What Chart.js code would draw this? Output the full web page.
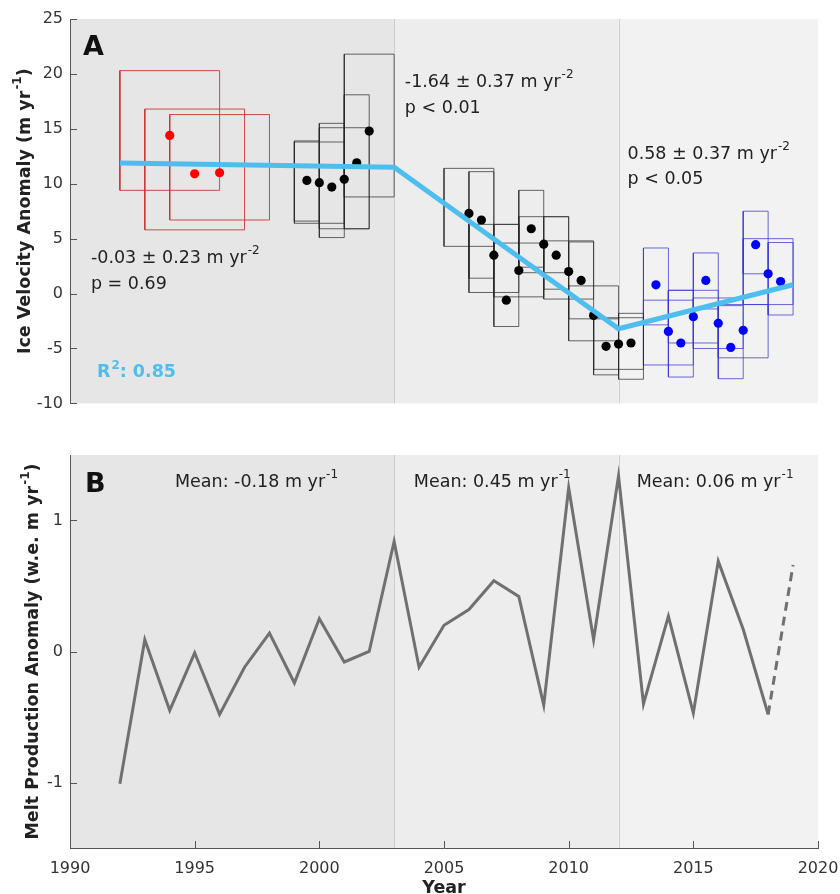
<!DOCTYPE html>
<html><head><meta charset="utf-8">
<script src="https://cdn.jsdelivr.net/npm/chart.js@4"></script>
<style>
html,body{margin:0;padding:0;background:#fff;}
#wrap{position:relative;width:840px;height:894px;}
#cA{position:absolute;left:0;top:0;}
#cB{position:absolute;left:0;top:420px;}
</style></head><body>
<div id="wrap"><canvas id="cA" width="840" height="420"></canvas><canvas id="cB" width="840" height="474"></canvas></div>
<script>
// ---------- Panel A : ice velocity anomaly ----------
const redT  = [1994, 1995, 1996];
const redV  = [14.4, 10.9, 11.0];
const redT0 = [1992, 1993, 1994];
const redT1 = [1996, 1997, 1998];
const redLo = [9.4, 5.8, 6.7];
const redHi = [20.3, 16.8, 16.3];

const blackT  = [1999.5, 2000, 2000.5, 2001, 2001.5, 2002, 2006, 2006.5, 2007, 2007.5, 2008, 2008.5, 2009, 2009.5, 2010, 2010.5, 2011, 2011.5, 2012, 2012.5];
const blackV  = [10.3, 10.1, 9.7, 10.4, 11.9, 14.8, 7.3, 6.7, 3.5, -0.6, 2.1, 5.9, 4.5, 3.5, 2.0, 1.2, -2.0, -4.8, -4.6, -4.5];
const blackT0 = [1999, 1999, 2000, 2000, 2001, 2001, 2005, 2006, 2006, 2007, 2007, 2008, 2008, 2009, 2009, 2010, 2010, 2011, 2011, 2012];
const blackT1 = [2000, 2001, 2001, 2002, 2002, 2003, 2007, 2007, 2008, 2008, 2009, 2009, 2010, 2010, 2011, 2011, 2012, 2012, 2013, 2013];
const blackLo = [6.6, 6.4, 5.1, 5.9, 5.9, 8.8, 4.3, 1.4, 0.1, -3.0, -0.3, 2.4, 1.9, 0.4, -0.5, -2.3, -4.3, -7.4, -6.9, -7.8];
const blackHi = [13.9, 13.8, 15.5, 15.1, 18.1, 21.8, 11.4, 11.1, 6.3, 6.3, 4.6, 9.4, 7.0, 7.0, 4.8, 4.7, 0.7, -2.3, -2.2, -1.8];

const blueT  = [2013.5, 2014, 2014.5, 2015, 2015.5, 2016, 2016.5, 2017, 2017.5, 2018, 2018.5];
const blueV  = [0.8, -3.45, -4.5, -2.1, 1.2, -2.7, -4.9, -3.35, 4.45, 1.8, 1.1];
const blueT0 = [2013, 2013, 2014, 2014, 2015, 2015, 2016, 2016, 2017, 2017, 2018];
const blueT1 = [2014, 2015, 2015, 2016, 2016, 2017, 2017, 2018, 2018, 2019, 2019];
const blueLo = [-2.85, -6.5, -7.6, -4.5, -1.4, -5.0, -7.75, -5.85, 1.8, -1.0, -1.95];
const blueHi = [4.15, -0.6, 0.3, 0.3, 3.7, -0.4, -1.1, -1.0, 7.5, 5.0, 4.65];

const fitYears = [1992, 2003, 2012, 2019];
const fitVals  = [11.9, 11.5, -3.2, 0.8];

const periodBreaks = [1990, 2003, 2012, 2020];

// ---------- Panel B : melt production anomaly ----------
const meltYears = [1992,1993,1994,1995,1996,1997,1998,1999,2000,2001,2002,2003,2004,2005,2006,2007,2008,2009,2010,2011,2012,2013,2014,2015,2016,2017,2018];
const meltVals  = [-1.01,0.09,-0.45,-0.01,-0.48,-0.12,0.14,-0.24,0.25,-0.08,0.0,0.84,-0.12,0.20,0.32,0.54,0.42,-0.41,1.25,0.09,1.34,-0.40,0.27,-0.47,0.69,0.17,-0.48];
const meltDashYears = [2018, 2019];
const meltDashVals  = [-0.48, 0.66];

const FONT = '"DejaVu Sans"';
Chart.defaults.font.family = FONT;

const pts = (xs, ys) => xs.map((x, i) => ({x, y: ys[i]}));
function boxPath(t0, t1, lo, hi) {
  const d = [];
  for (let i = 0; i < t0.length; i++) {
    d.push({x:t0[i],y:lo[i]},{x:t1[i],y:lo[i]},{x:t1[i],y:hi[i]},{x:t0[i],y:hi[i]},{x:t0[i],y:lo[i]},{x:t0[i],y:null});
  }
  return d;
}

function drawRich(ctx, segs, x, y, size, weight, color, align) {
  const base = `${weight} ${size}px ${FONT}`;
  const supF = `${weight} ${Math.round(size*0.68)}px ${FONT}`;
  ctx.save();
  ctx.fillStyle = color; ctx.textBaseline = 'middle'; ctx.textAlign = 'left';
  let widths = segs.map(s => { ctx.font = s.sup ? supF : base; return ctx.measureText(s.t).width + (s.sup ? 1 : 0); });
  const total = widths.reduce((a,b)=>a+b,0);
  let cx = align === 'center' ? x - total/2 : x;
  segs.forEach((s, i) => {
    ctx.font = s.sup ? supF : base;
    ctx.fillText(s.t, cx + (s.sup ? 1 : 0), s.sup ? y - size*0.42 : y);
    cx += widths[i];
  });
  ctx.restore();
}

const bgPlugin = {
  id: 'bg',
  beforeDraw(chart) {
    const {ctx, chartArea: a, scales: {x}} = chart;
    const cols = ['#e6e6e6', '#ededed', '#f2f2f2'];
    ctx.save();
    for (let i = 0; i < periodBreaks.length - 1; i++) {
      const x0 = x.getPixelForValue(periodBreaks[i]);
      const x1 = x.getPixelForValue(periodBreaks[i+1]);
      ctx.fillStyle = cols[i];
      ctx.fillRect(x0, a.top, x1 - x0, a.bottom - a.top);
    }
    ctx.strokeStyle = '#cdcdcd'; ctx.lineWidth = 1;
    for (let i = 1; i < periodBreaks.length - 1; i++) {
      const px = Math.round(x.getPixelForValue(periodBreaks[i])) + 0.5;
      ctx.beginPath(); ctx.moveTo(px, a.top); ctx.lineTo(px, a.bottom); ctx.stroke();
    }
    ctx.restore();
  }
};

const inTicks = {
  id: 'inticks',
  afterDraw(chart) {
    const {ctx, chartArea: a, scales} = chart;
    ctx.save(); ctx.strokeStyle = '#555'; ctx.lineWidth = 1;
    const y = scales.y;
    y.ticks.forEach(t => {
      const py = Math.round(y.getPixelForValue(t.value)) + 0.5;
      ctx.beginPath(); ctx.moveTo(a.left, py); ctx.lineTo(a.left + 7, py); ctx.stroke();
    });
    const x = scales.x;
    if (x.options.display) {
      x.ticks.forEach(t => {
        const px = Math.round(x.getPixelForValue(t.value)) + 0.5;
        ctx.beginPath(); ctx.moveTo(px, a.bottom); ctx.lineTo(px, a.bottom - 7); ctx.stroke();
      });
    }
    ctx.restore();
  }
};

const TXT = '#222';
const FS = 17.5;
const annA = {
  id: 'annA',
  afterDraw(chart) {
    const {ctx, chartArea: a, scales: {x, y}} = chart;
    const X = v => x.getPixelForValue(v), Y = v => y.getPixelForValue(v);
    drawRich(ctx, [{t:'A'}], X(1990.52), Y(22.4), 27, 'bold', '#111', 'left');
    drawRich(ctx, [{t:'-0.03 \u00B1 0.23 m yr'},{t:'-2',sup:true}], X(1990.84), Y(3.2), FS, 'normal', TXT, 'left');
    drawRich(ctx, [{t:'p = 0.69'}], X(1990.84), Y(0.8), FS, 'normal', TXT, 'left');
    drawRich(ctx, [{t:'-1.64 \u00B1 0.37 m yr'},{t:'-2',sup:true}], X(2003.43), Y(19.25), FS, 'normal', TXT, 'left');
    drawRich(ctx, [{t:'p < 0.01'}], X(2003.43), Y(16.85), FS, 'normal', TXT, 'left');
    drawRich(ctx, [{t:'0.58 \u00B1 0.37 m yr'},{t:'-2',sup:true}], X(2012.36), Y(12.66), FS, 'normal', TXT, 'left');
    drawRich(ctx, [{t:'p < 0.05'}], X(2012.36), Y(10.43), FS, 'normal', TXT, 'left');
    drawRich(ctx, [{t:'R'},{t:'2',sup:true},{t:': 0.85'}], X(1991.08), Y(-7.22), FS, 'bold', '#4DBEEE', 'left');
    ctx.save();
    ctx.translate(25, (a.top + a.bottom)/2); ctx.rotate(-Math.PI/2);
    drawRich(ctx, [{t:'Ice Velocity Anomaly (m yr'},{t:'-1',sup:true},{t:')'}], 0, 0, FS, 'bold', TXT, 'center');
    ctx.restore();
  }
};

const annB = {
  id: 'annB',
  afterDraw(chart) {
    const {ctx, chartArea: a, scales: {x, y}} = chart;
    const X = v => x.getPixelForValue(v), Y = v => y.getPixelForValue(v);
    drawRich(ctx, [{t:'B'}], X(1990.6), Y(1.27), 27, 'bold', '#111', 'left');
    drawRich(ctx, [{t:'Mean: -0.18 m yr'},{t:'-1',sup:true}], X(1994.21), Y(1.29), FS, 'normal', TXT, 'left');
    drawRich(ctx, [{t:'Mean: 0.45 m yr'},{t:'-1',sup:true}], X(2003.79), Y(1.29), FS, 'normal', TXT, 'left');
    drawRich(ctx, [{t:'Mean: 0.06 m yr'},{t:'-1',sup:true}], X(2012.73), Y(1.29), FS, 'normal', TXT, 'left');
    drawRich(ctx, [{t:'Year'}], (a.left + a.right)/2, 468, FS, 'bold', TXT, 'center');
    ctx.save();
    ctx.translate(33, (a.top + a.bottom)/2); ctx.rotate(-Math.PI/2);
    drawRich(ctx, [{t:'Melt Production Anomaly (w.e. m yr'},{t:'-1',sup:true},{t:')'}], 0, 0, FS, 'bold', TXT, 'center');
    ctx.restore();
  }
};

const boxDs = (data, color) => ({type:'line', data, borderColor: color, borderWidth: 1, pointRadius: 0, spanGaps: false, tension: 0, order: 3, fill: false});
const ptDs = (data, color) => ({type:'scatter', data, backgroundColor: color, borderColor: color, pointRadius: 4.6, pointBorderWidth: 0, order: 2});

new Chart(document.getElementById('cA'), {
  type: 'scatter',
  data: { datasets: [
    {type:'line', data: pts(fitYears, fitVals), borderColor:'#4DBEEE', borderWidth: 5, pointRadius: 0, order: 1, tension: 0, fill: false},
    ptDs(pts(redT, redV), '#ff0000'),
    ptDs(pts(blackT, blackV), '#000000'),
    ptDs(pts(blueT, blueV), '#0000ff'),
    boxDs(boxPath(redT0, redT1, redLo, redHi), 'rgba(205,45,45,0.85)'),
    boxDs(boxPath(blackT0, blackT1, blackLo, blackHi), 'rgba(40,40,40,0.7)'),
    boxDs(boxPath(blueT0, blueT1, blueLo, blueHi), 'rgba(55,55,215,0.75)')
  ]},
  options: {
    responsive: false, animation: false, events: [],
    layout: { padding: { top: 19, bottom: 8, right: 22, left: 0 } },
    plugins: { legend: { display: false }, tooltip: { enabled: false } },
    scales: {
      x: { type: 'linear', min: 1990, max: 2020, display: false },
      y: { type: 'linear', min: -10, max: 25,
           ticks: { stepSize: 5, color: '#333', font: { size: 16 }, padding: 7 },
           grid: { display: false, drawTicks: false },
           border: { display: true, color: '#555', width: 1 },
           afterFit: s => { s.width = 70; } }
    }
  },
  plugins: [bgPlugin, inTicks, annA]
});

new Chart(document.getElementById('cB'), {
  type: 'line',
  data: { datasets: [
    {data: pts(meltYears, meltVals), borderColor:'#707070', borderWidth: 3, pointRadius: 0, tension: 0, fill: false},
    {data: pts(meltDashYears, meltDashVals), borderColor:'#707070', borderWidth: 3, borderDash: [9, 6], pointRadius: 0, tension: 0, fill: false}
  ]},
  options: {
    responsive: false, animation: false, events: [],
    layout: { padding: { top: 35, bottom: 0, right: 22, left: 0 } },
    plugins: { legend: { display: false }, tooltip: { enabled: false } },
    scales: {
      x: { type: 'linear', min: 1990, max: 2020,
           ticks: { stepSize: 5, color: '#333', font: { size: 16 }, padding: 11, callback: v => String(v) },
           grid: { display: false, drawTicks: false },
           border: { display: true, color: '#555', width: 1 },
           afterFit: s => { s.height = 46; s.paddingLeft = 0; s.paddingRight = 0; } },
      y: { type: 'linear', min: -1.5, max: 1.5,
           ticks: { stepSize: 0.5, color: '#333', font: { size: 16 }, padding: 7 },
           afterBuildTicks: s => { s.ticks = s.ticks.filter(t => Math.abs(t.value - Math.round(t.value)) < 1e-9); },
           grid: { display: false, drawTicks: false },
           border: { display: true, color: '#555', width: 1 },
           afterFit: s => { s.width = 70; } }
    }
  },
  plugins: [bgPlugin, inTicks, annB]
});
</script>
</body></html>
